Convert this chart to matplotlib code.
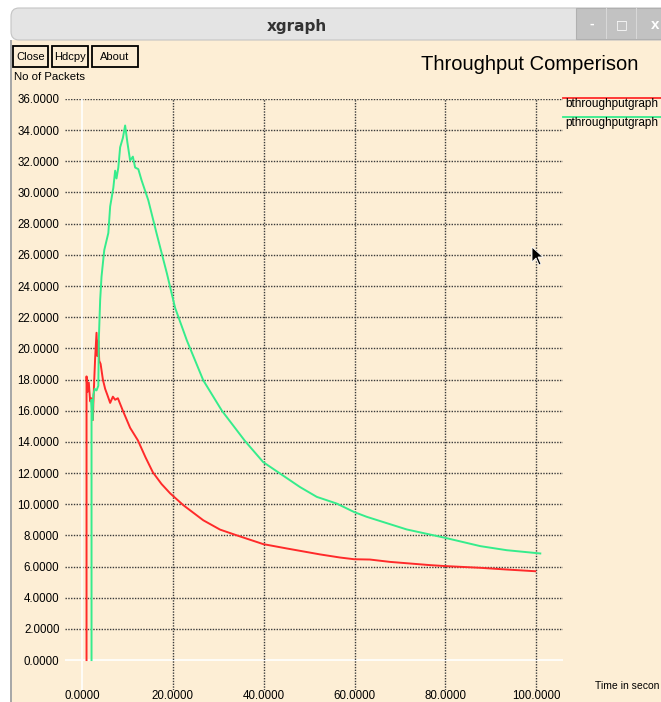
import matplotlib
matplotlib.use("Agg")
import matplotlib.pyplot as plt
from matplotlib.patches import Rectangle, FancyBboxPatch, Polygon

plt.rcParams["font.family"] = ["Liberation Sans", "DejaVu Sans"]

# Data
b_time = [1.0, 1.0, 1.2, 1.5, 1.8, 2.1, 2.4, 2.5, 2.7, 2.9, 3.2, 3.4, 3.6, 3.8,
          4.1, 4.6, 5.1, 5.6, 6.2, 6.8, 7.3, 7.9, 9.0, 10.6, 12.3, 14.0, 15.6,
          17.5, 19.4, 22.3, 26.7, 30.4, 34.1, 39.9, 45.1, 52.4, 56.8, 59.9,
          63.4, 67.8, 76.7, 80.0, 87.7, 93.5, 99.8]
b_thru = [0.0, 18.2, 17.2, 17.8, 16.6, 16.8, 15.4, 16.5, 18.0, 19.4, 21.0, 19.5,
          20.5, 19.2, 19.0, 18.0, 17.4, 17.0, 16.5, 16.9, 16.7, 16.8, 16.0, 14.9,
          14.1, 13.0, 12.05, 11.3, 10.7, 9.94, 8.97, 8.37, 8.0, 7.44, 7.16, 6.78,
          6.58, 6.47, 6.45, 6.30, 6.09, 6.03, 5.92, 5.81, 5.70]

p_time = [2.1, 2.1, 2.3, 2.5, 2.8, 3.2, 3.6, 3.7, 4.0, 4.3, 4.9, 5.8, 6.2, 6.9,
          7.3, 7.6, 8.0, 8.4, 9.0, 9.5, 10.0, 10.6, 11.2, 11.7, 12.4, 13.1, 14.6,
          16.4, 18.7, 20.5, 23.1, 26.7, 30.8, 35.9, 39.9, 43.6, 48.0, 51.7, 56.1,
          59.9, 62.7, 71.5, 80.0, 87.7, 93.5, 100.9]
p_thru = [0.0, 16.7, 15.4, 17.0, 17.4, 17.3, 17.6, 20.5, 23.1, 24.6, 26.3, 27.4,
          29.1, 30.3, 31.4, 30.9, 31.6, 32.9, 33.5, 34.3, 33.2, 32.05, 32.3, 31.6,
          31.5, 30.8, 29.5, 27.4, 24.8, 22.6, 20.5, 17.95, 16.0, 14.05, 12.7,
          11.97, 11.1, 10.47, 10.04, 9.5, 9.19, 8.38, 7.84, 7.31, 7.05, 6.84]

x_ticks = [0, 20, 40, 60, 80, 100]
y_ticks = list(range(0, 38, 2))
series_names = ["bthroughputgraph", "pthroughputgraph"]

bg = "#fdeed5"
red = "#ff2a2a"
green = "#35ec8c"
grid_col = "#3a3a3a"

fig = plt.figure(figsize=(6.61, 7.02), dpi=100, facecolor=bg)
W, H = 661.0, 702.0


def fx(px):
    return px / W


def fy(py):
    return 1 - py / H


# window frame: white outside, grey border on the left, title bar on top
fig.patches.append(Rectangle((0, 0), fx(10), 1, transform=fig.transFigure,
                             facecolor="white", edgecolor="none", zorder=1))
fig.patches.append(Rectangle((0, fy(40)), 1, 1 - fy(40), transform=fig.transFigure,
                             facecolor="white", edgecolor="none", zorder=1))
fig.patches.append(Rectangle((fx(10), 0), fx(1.5), fy(40), transform=fig.transFigure,
                             facecolor="#a8a8a8", edgecolor="none", zorder=2))
fig.patches.append(FancyBboxPatch((fx(11), fy(40)), fx(660), fy(8) - fy(40),
                                  boxstyle="round,pad=0,rounding_size=0.012",
                                  transform=fig.transFigure, facecolor="#e4e4e4",
                                  edgecolor="#c4c4c4", lw=0.8, zorder=2))
fig.patches.append(Rectangle((fx(576), fy(39)), fx(90), fy(8) - fy(39),
                             transform=fig.transFigure, facecolor="#c2c2c2",
                             edgecolor="#b0b0b0", lw=0.8, zorder=3))
for px in (606, 636):
    fig.patches.append(Rectangle((fx(px), fy(39)), fx(1), fy(8) - fy(39),
                                 transform=fig.transFigure, facecolor="#d8d8d8",
                                 edgecolor="none", zorder=4))
fig.text(fx(297), fy(26), "xgraph", ha="center", va="center", fontsize=11,
         fontweight="bold", color="#333333", family=["DejaVu Sans"], zorder=5)
fig.text(fx(592), fy(24), "-", ha="center", va="center", fontsize=10,
         color="white", fontweight="bold", zorder=5)
fig.text(fx(622), fy(25), "\u25a1", ha="center", va="center", fontsize=9,
         color="white", fontweight="bold", family=["DejaVu Sans"], zorder=5)
fig.text(fx(655), fy(25), "x", ha="center", va="center", fontsize=11,
         color="white", fontweight="bold", zorder=5)

# xgraph buttons
for label, x0, x1 in [("Close", 13, 48), ("Hdcpy", 52, 88), ("About", 92, 138)]:
    fig.patches.append(Rectangle((fx(x0), fy(67)), fx(x1 - x0), fy(46) - fy(67),
                                 transform=fig.transFigure, facecolor=bg,
                                 edgecolor="black", lw=1.3, zorder=2))
    fig.text(fx((x0 + x1) / 2), fy(56.5), label, ha="center", va="center",
             fontsize=8)

fig.text(fx(14), fy(77), "No of Packets", ha="left", va="center", fontsize=8.2)
fig.text(fx(530), fy(65), "Throughput Comperison", ha="center", va="center",
         fontsize=14.5)
# the window cuts this label off at the right edge
fig.text(fx(595), fy(686), "Time in secon", ha="left", va="center", fontsize=7.5)

# plot area
ax = fig.add_axes([fx(65), 12 / H, fx(563) - fx(65), (690 - 98.5) / H])
ax.patch.set_alpha(0)
for s in ax.spines.values():
    s.set_visible(False)
ax.set_xlim(-3.74, 105.9)
ax.set_ylim(-1.92, 36.03)

for yv in y_ticks:
    if yv == 0:
        ax.axhline(yv, color="white", lw=1.2, zorder=1)
    else:
        ax.axhline(yv, color=grid_col, lw=1.0, ls=(0, (1, 1)), zorder=1)
ax.axvline(0, color="white", lw=1.2, zorder=1)
for xv in x_ticks[1:]:
    ax.axvline(xv, color=grid_col, lw=1.0, ls=(0, (1, 1)), zorder=1)

ax.plot(b_time, b_thru, color=red, lw=1.4, zorder=3)
ax.plot(p_time, p_thru, color=green, lw=1.4, zorder=3)

ax.set_xticks(x_ticks)
ax.set_xticklabels([f"{v:.4f}" for v in x_ticks], fontsize=8.3)
ax.set_yticks(y_ticks)
ax.set_yticklabels([f"{v:.4f}" for v in y_ticks], fontsize=8.3)
ax.tick_params(length=0, pad=4)
ax.tick_params(axis="x", pad=0)

# legend drawn xgraph style to the right of the plot
for name, col, ypx in [(series_names[0], red, 97.5), (series_names[1], green, 117)]:
    fig.add_artist(plt.Line2D([fx(563), 1.0], [fy(ypx), fy(ypx)], color=col, lw=1.3))
    fig.text(fx(565), fy(ypx + 6), name, ha="left", va="center", fontsize=8.5)

# mouse pointer
fig.patches.append(Polygon([(fx(532), fy(247)), (fx(532), fy(262)), (fx(536), fy(258)),
                            (fx(539), fy(265)), (fx(541), fy(264)), (fx(538), fy(257)),
                            (fx(543), fy(257))], closed=True,
                           transform=fig.transFigure, facecolor="black",
                           edgecolor="white", lw=0.6, zorder=5))

fig.savefig("out.png", dpi=100, facecolor=bg)
